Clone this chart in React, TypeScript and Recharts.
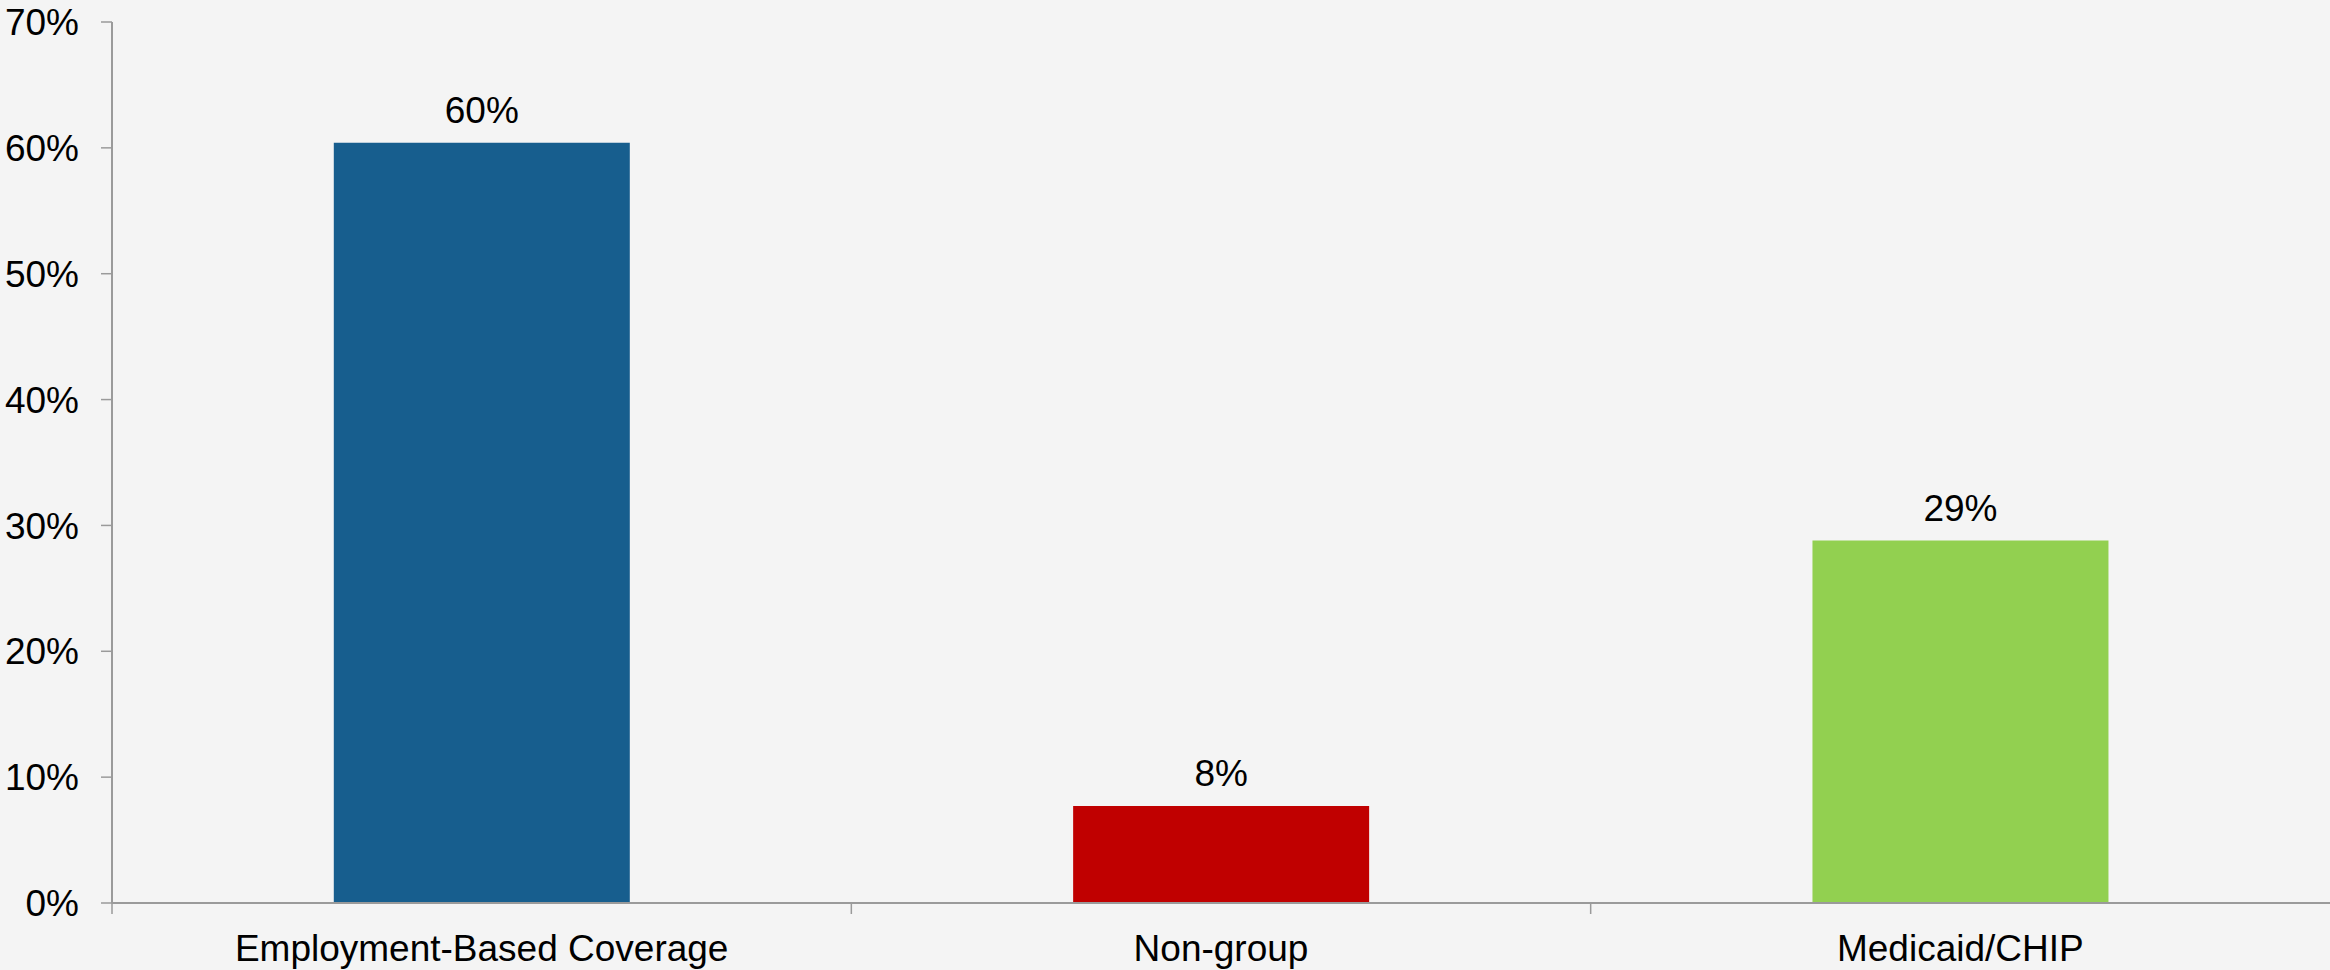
import { BarChart, Bar, XAxis, YAxis, Cell, LabelList } from 'recharts'

const categories = ['Employment-Based Coverage', 'Non-group', 'Medicaid/CHIP']
const shares = [60.4, 7.7, 28.8]
const barColors = ['#175E8E', '#C00000', '#92D050']
const yTicks = [0, 10, 20, 30, 40, 50, 60, 70]

const data = categories.map((name, i) => ({ name, value: shares[i] }))

const FONT = '"Liberation Sans", Arial, sans-serif'
const AXIS_GRAY = '#9a9a9a'
const X_TICK_GAP = 32

const pct = (v: number) => `${Math.round(v)}%`

// category label plus a tick mark on the left edge of each band
function CategoryTick(props: any) {
  const { x, y, payload } = props
  const half = payload?.offset ?? 0
  const axisY = y - X_TICK_GAP
  return (
    <g>
      <line x1={x - half} x2={x - half} y1={axisY} y2={axisY + 11} stroke={AXIS_GRAY} strokeWidth={1.5} />
      <text x={x} y={y} dy="0.71em" textAnchor="middle" fill="#000" fontSize={37} fontFamily={FONT}>
        {payload.value}
      </text>
    </g>
  )
}

export default function App() {
  return (
    <div
      style={{
        position: 'absolute',
        left: 0,
        top: 0,
        width: 2330,
        height: 970,
        background: '#f4f4f4',
        fontFamily: FONT,
      }}
    >
      <BarChart
        width={2330}
        height={970}
        data={data}
        margin={{ top: 22, right: 0, left: 0, bottom: 0 }}
        barCategoryGap="30%"
      >
        <XAxis
          dataKey="name"
          height={67}
          axisLine={{ stroke: AXIS_GRAY, strokeWidth: 2 }}
          tickLine={false}
          tickSize={0}
          tickMargin={X_TICK_GAP}
          tick={<CategoryTick />}
          interval={0}
        />
        <YAxis
          width={112}
          domain={[0, 70]}
          ticks={yTicks}
          tickFormatter={pct}
          axisLine={{ stroke: AXIS_GRAY, strokeWidth: 2 }}
          tickLine={{ stroke: AXIS_GRAY, strokeWidth: 1.5 }}
          tickSize={11}
          tickMargin={22}
          tick={{ fill: '#000', fontSize: 37, fontFamily: FONT }}
        />
        <Bar dataKey="value" isAnimationActive={false}>
          {data.map((d, i) => (
            <Cell key={d.name} fill={barColors[i]} />
          ))}
          <LabelList
            dataKey="value"
            position="top"
            offset={20}
            formatter={(v: any) => pct(Number(v))}
            style={{ fill: '#000', fontSize: 37, fontFamily: FONT }}
          />
        </Bar>
      </BarChart>
    </div>
  )
}
